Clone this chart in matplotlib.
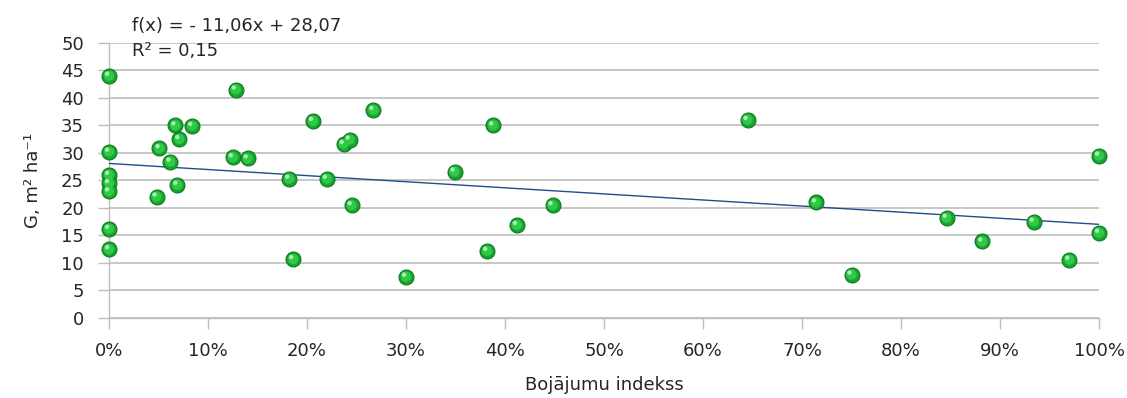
import matplotlib
matplotlib.use("Agg")
import matplotlib.pyplot as plt
import matplotlib.transforms as mtransforms
import numpy as np

plt.rcParams['font.family'] = ['DejaVu Sans']

# Data (x = damage index as fraction, y = basal area G, m2/ha)
damage_index = [0.0, 0.0, 0.0, 0.0, 0.0, 0.0, 0.0,
                0.048, 0.051, 0.062, 0.067, 0.069, 0.071, 0.084,
                0.125, 0.128, 0.140, 0.182, 0.186, 0.206, 0.220,
                0.237, 0.243, 0.245, 0.267, 0.300, 0.349, 0.382,
                0.388, 0.412, 0.448, 0.645, 0.714, 0.750, 0.846,
                0.882, 0.934, 0.970, 1.0, 1.0]
basal_area = [44.0, 30.2, 26.0, 24.5, 23.0, 16.2, 12.5,
              22.05, 30.85, 28.4, 35.0, 24.2, 32.5, 34.9,
              29.2, 41.5, 29.0, 25.3, 10.7, 35.8, 25.3,
              31.6, 32.4, 20.5, 37.8, 7.5, 26.6, 12.2,
              35.0, 16.9, 20.5, 36.0, 21.0, 7.9, 18.2,
              13.9, 17.5, 10.6, 29.5, 15.5]
trend_slope = -11.06
trend_intercept = 28.07
r_squared = 0.15
x_ticks = [0.0, 0.1, 0.2, 0.3, 0.4, 0.5, 0.6, 0.7, 0.8, 0.9, 1.0]
x_tick_labels = ['0%', '10%', '20%', '30%', '40%', '50%', '60%', '70%', '80%', '90%', '100%']
y_ticks = [0, 5, 10, 15, 20, 25, 30, 35, 40, 45, 50]

fig = plt.figure(figsize=(11.27, 3.98), dpi=100)
ax = fig.add_axes([109/1127, 1-318/398, 990/1127, 275.3/398])

ax.set_xlim(0, 1)
ax.set_ylim(0, 50)

fs = 13
grid_c = '#bdbdbd'
ax.set_yticks(y_ticks)
ax.set_xticks(x_ticks)
ax.set_xticklabels(x_tick_labels)
ax.yaxis.grid(True, color=grid_c, lw=1.2, zorder=0)
ax.set_axisbelow(True)
for s in ['top', 'right']:
    ax.spines[s].set_visible(False)
for s in ['left', 'bottom']:
    ax.spines[s].set_color(grid_c)
    ax.spines[s].set_linewidth(1.0)
ax.tick_params(axis='both', colors=grid_c, labelcolor='#262626', labelsize=fs,
               length=8, width=1.0)
ax.tick_params(axis='x', pad=9)
ax.tick_params(axis='y', pad=10)

# trendline
xs = np.array([0.0, 1.0])
ax.plot(xs, trend_slope * xs + trend_intercept, color='#1f4e8c', lw=1.0, zorder=3)

# sphere-like markers
ax.scatter(damage_index, basal_area, s=115, facecolor='#18a52e', edgecolor='#0b7a1c',
           linewidth=0.8, zorder=4, clip_on=False)
ax.scatter(damage_index, basal_area, s=55, facecolor='#30c848', edgecolor='none',
           zorder=5, clip_on=False)
offset = mtransforms.ScaledTranslation(-2/100, 2/100, fig.dpi_scale_trans)
ax.scatter(damage_index, basal_area, s=10, facecolor='#a8f0b0', edgecolor='none',
           zorder=6, clip_on=False, transform=ax.transData + offset)

eq_text = "f(x) = - {:.2f}x + {:.2f}".format(abs(trend_slope), trend_intercept).replace('.', ',')
r2_text = "R² = {:.2f}".format(r_squared).replace('.', ',')
fig.text(132/1127, 1-26/398, eq_text, fontsize=fs, color='#262626', va='center', ha='left')
fig.text(132/1127, 1-51/398, r2_text, fontsize=fs, color='#262626', va='center', ha='left')

ax.set_xlabel('Bojājumu indekss', fontsize=fs, color='#262626', labelpad=12)
ax.set_ylabel('G, m² ha⁻¹', fontsize=fs, color='#262626', labelpad=14)

fig.savefig('out.png', dpi=100)
